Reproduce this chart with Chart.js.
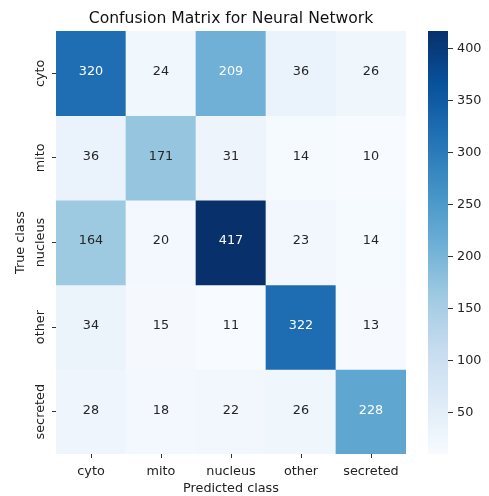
<!DOCTYPE html>
<html>
<head>
<meta charset="utf-8">
<script src="https://cdn.jsdelivr.net/npm/chart.js@4.4.1/dist/chart.umd.min.js"></script>
<style>
  html, body { margin: 0; padding: 0; background: #ffffff; }
  #wrap { position: relative; width: 489px; height: 496px; overflow: hidden; }
  #heat { position: absolute; left: 0; top: 0; }
  #cbar { position: absolute; left: 400px; top: 0; }
</style>
</head>
<body>
<div id="wrap">
  <canvas id="heat" width="462" height="496"></canvas>
  <canvas id="cbar" width="89" height="496"></canvas>
</div>
<script>
// Class names (rows = true class, columns = predicted class)
const trueClasses = ['cyto', 'mito', 'nucleus', 'other', 'secreted'];
const predictedClasses = ['cyto', 'mito', 'nucleus', 'other', 'secreted'];

// Counts per true class, in predicted-class order
const cytoRow     = [320, 24, 209, 36, 26];
const mitoRow     = [36, 171, 31, 14, 10];
const nucleusRow  = [164, 20, 417, 23, 14];
const otherRow    = [34, 15, 11, 322, 13];
const secretedRow = [28, 18, 22, 26, 228];

// Colorbar tick values
const colorbarTicks = [50, 100, 150, 200, 250, 300, 350, 400];

const matrix = [cytoRow, mitoRow, nucleusRow, otherRow, secretedRow];
const allValues = matrix.flat();
const vmin = Math.min(...allValues);
const vmax = Math.max(...allValues);

const FONT = '"DejaVu Sans", "Liberation Sans", sans-serif';
const TEXT = '#222222';
const DARK_ANNOT = '#262626';
const LABEL_SIZE = 12.8;
Chart.defaults.font.family = FONT;
Chart.defaults.color = TEXT;

// "Blues" sequential palette anchors
const BLUES = ['#f7fbff', '#deebf7', '#c6dbef', '#9ecae1', '#6baed6',
               '#4292c6', '#2171b5', '#08519c', '#08306b'];
const hexRgb = h => [1, 3, 5].map(i => parseInt(h.slice(i, i + 2), 16));
const BLUES_RGB = BLUES.map(hexRgb);

function bluesRgb(t) {
  t = Math.max(0, Math.min(1, t));
  const p = t * (BLUES_RGB.length - 1);
  const i = Math.min(Math.floor(p), BLUES_RGB.length - 2);
  const f = p - i;
  const a = BLUES_RGB[i], b = BLUES_RGB[i + 1];
  return a.map((c, k) => c + (b[k] - c) * f);
}
const rgbStr = c => `rgb(${c.map(Math.round).join(',')})`;
const norm = v => (v - vmin) / (vmax - vmin);

function luminance(rgb) {
  const lin = rgb.map(c => {
    c /= 255;
    return c <= 0.03928 ? c / 12.92 : Math.pow((c + 0.055) / 1.055, 2.4);
  });
  return 0.2126 * lin[0] + 0.7152 * lin[1] + 0.0722 * lin[2];
}

// Value labels centred in each cell
const cellLabels = {
  id: 'cellLabels',
  afterDatasetsDraw(chart) {
    const ctx = chart.ctx;
    ctx.save();
    ctx.font = `${LABEL_SIZE}px ${FONT}`;
    ctx.textAlign = 'center';
    ctx.textBaseline = 'middle';
    chart.data.datasets.forEach((ds, r) => {
      chart.getDatasetMeta(r).data.forEach((bar, c) => {
        const v = matrix[r][c];
        const rgb = bluesRgb(norm(v));
        ctx.fillStyle = luminance(rgb) > 0.408 ? DARK_ANNOT : '#ffffff';
        const cy = (bar.y + bar.base) / 2 - 1.5;
        ctx.fillText(String(v), bar.x, cy);
      });
    });
    ctx.restore();
  }
};

// Rotated row names beside the y-axis ticks
const rowNames = {
  id: 'rowNames',
  afterDraw(chart) {
    const ys = chart.scales.y;
    const ctx = chart.ctx;
    ctx.save();
    ctx.font = `${LABEL_SIZE}px ${FONT}`;
    ctx.fillStyle = TEXT;
    ctx.textAlign = 'center';
    ctx.textBaseline = 'middle';
    ys.ticks.forEach((t, i) => {
      const py = ys.getPixelForValue(t.value);
      ctx.save();
      ctx.translate(ys.right - 15, py);
      ctx.rotate(-Math.PI / 2);
      ctx.fillText(trueClasses[i], 0, 0);
      ctx.restore();
    });
    ctx.restore();
  }
};

new Chart(document.getElementById('heat'), {
  type: 'bar',
  data: {
    labels: predictedClasses,
    datasets: trueClasses.map((name, r) => ({
      label: name,
      data: matrix[r].map(() => [r, r + 1]),
      backgroundColor: matrix[r].map(v => rgbStr(bluesRgb(norm(v)))),
      borderWidth: 0,
      barPercentage: 1,
      categoryPercentage: 1,
      grouped: false
    }))
  },
  options: {
    responsive: false,
    animation: false,
    devicePixelRatio: 1,
    layout: { padding: 0 },
    plugins: {
      legend: { display: false },
      tooltip: { enabled: false },
      title: {
        display: true,
        text: 'Confusion Matrix for Neural Network',
        color: '#111111',
        font: { size: 15.6, weight: 'normal' },
        padding: { top: 9.5, bottom: 2.8 }
      }
    },
    scales: {
      x: {
        type: 'category',
        offset: true,
        border: { display: false },
        grid: { offset: false, drawOnChartArea: false, drawTicks: true, tickLength: 4, color: '#333333' },
        ticks: { font: { size: LABEL_SIZE }, color: TEXT, padding: 5.6, maxRotation: 0 },
        title: {
          display: true, text: 'Predicted class', color: TEXT,
          font: { size: LABEL_SIZE, lineHeight: 1.1 }, padding: { top: 0, bottom: 0 }
        },
        afterFit: s => { s.height = 42; }
      },
      y: {
        type: 'linear',
        min: 0,
        max: trueClasses.length,
        reverse: true,
        border: { display: false },
        grid: { drawOnChartArea: false, drawTicks: true, tickLength: 4, color: '#333333' },
        ticks: { display: false },
        afterBuildTicks: s => { s.ticks = trueClasses.map((_, i) => ({ value: i + 0.5 })); },
        title: {
          display: true, text: 'True class', color: TEXT,
          font: { size: LABEL_SIZE }, padding: { top: 13.3, bottom: 0 }
        },
        afterFit: s => { s.width = 56; }
      },
      // empty right-hand gutter so the heatmap sits left of the colour scale
      gutter: {
        type: 'linear',
        position: 'right',
        border: { display: false },
        grid: { display: false },
        ticks: { display: false },
        afterFit: s => { s.width = 56; }
      }
    }
  },
  plugins: [cellLabels, rowNames]
});

// Colour scale bar
new Chart(document.getElementById('cbar'), {
  type: 'bar',
  data: {
    labels: [''],
    datasets: [{
      data: [[vmin, vmax]],
      borderWidth: 0,
      barPercentage: 1,
      categoryPercentage: 1,
      backgroundColor: ctx => {
        const area = ctx.chart.chartArea;
        if (!area) return BLUES[4];
        const g = ctx.chart.ctx.createLinearGradient(0, area.bottom, 0, area.top);
        BLUES.forEach((c, i) => g.addColorStop(i / (BLUES.length - 1), c));
        return g;
      }
    }]
  },
  options: {
    responsive: false,
    animation: false,
    devicePixelRatio: 1,
    layout: { padding: { left: 28, right: 0, top: 31, bottom: 42 } },
    plugins: { legend: { display: false }, tooltip: { enabled: false } },
    scales: {
      x: { display: false },
      y: {
        type: 'linear',
        position: 'right',
        min: vmin,
        max: vmax,
        border: { display: false },
        grid: { drawOnChartArea: false, drawTicks: true, tickLength: 5, color: '#333333' },
        afterBuildTicks: s => { s.ticks = colorbarTicks.map(v => ({ value: v })); },
        ticks: { font: { size: LABEL_SIZE }, color: TEXT, padding: 4 },
        afterFit: s => { s.width = 41; }
      }
    }
  }
});
</script>
</body>
</html>
